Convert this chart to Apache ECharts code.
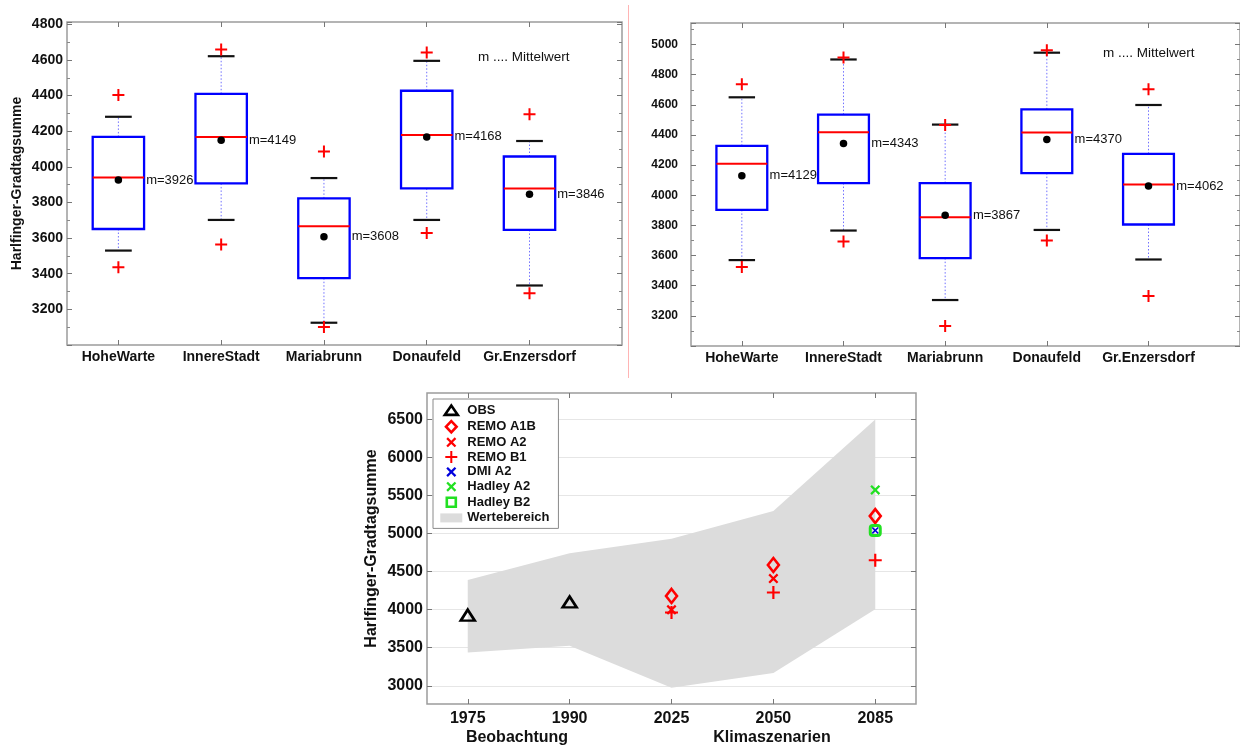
<!DOCTYPE html>
<html>
<head>
<meta charset="utf-8">
<script src="https://cdn.jsdelivr.net/npm/echarts@6/dist/echarts.min.js"></script>
<style>
  html, body { margin: 0; padding: 0; background: #fff; }
  #chart { width: 1240px; height: 745px; }
</style>
</head>
<body>
<div id="chart"></div>
<script>
// ---- Stations (top panels) ----
const stations = ['HoheWarte', 'InnereStadt', 'Mariabrunn', 'Donaufeld', 'Gr.Enzersdorf'];

// Left panel: box statistics
const whiskerLowL  = [3530, 3702, 3125, 3702, 3334];
const q1L          = [3651, 3907, 3375, 3879, 3646];
const medianL      = [3940, 4168, 3666, 4179, 3879];
const q3L          = [4168, 4410, 3823, 4427, 4058];
const whiskerHighL = [4281, 4621, 3937, 4595, 4145];
const meanL        = [3926, 4149, 3608, 4168, 3846];
const outHighL     = [4403, 4658, 4086, 4642, 4295];
const outLowL      = [3437, 3564, 3101, 3629, 3290];

// Right panel: box statistics
const whiskerLowR  = [3570, 3766, 3305, 3770, 3574];
const q1R          = [3903, 4081, 3583, 4147, 3806];
const medianR      = [4209, 4418, 3854, 4416, 4072];
const q3R          = [4328, 4535, 4081, 4570, 4275];
const whiskerHighR = [4650, 4901, 4469, 4946, 4599];
const meanR        = [4129, 4343, 3867, 4370, 4062];
const outHighR     = [4736, 4914, 4467, 4962, 4703];
const outLowR      = [3524, 3693, 3132, 3700, 3332];

// ---- Periods (bottom panel) ----
const periods   = ['1975', '1990', '2025', '2050', '2085'];
const rangeHigh = [4391, 4741, 4934, 5297, 6500];
const rangeLow  = [3438, 3525, 2974, 3167, 4007];
const obs       = [3928, 4102, null, null, null];
const remoA1B   = [null, null, 4181, 4588, 5231];
const remoA2    = [null, null, 3998, 4409, null];
const remoB1    = [null, null, 3963, 4226, 4650];
const dmiA2     = [null, null, null, null, 5043];
const hadleyA2  = [null, null, null, null, 5575];
const hadleyB2  = [null, null, null, null, 5043];
const bottomTicks = [3000, 3500, 4000, 4500, 5000, 5500, 6000, 6500];

const FONT = "'Liberation Sans', Arial, Helvetica, sans-serif";
const PLUS = 'path://M5,0H7V5H12V7H7V12H5V7H0V5H5Z';
const CROSS = 'path://M0,1.6L1.6,0L5,3.4L8.4,0L10,1.6L6.6,5L10,8.4L8.4,10L5,6.6L1.6,10L0,8.4L3.4,5Z';
const POS = [1, 2, 3, 4, 5];
const plain = v => String(Math.round(v));

// Legend icons in a 22x12 box (corner anchors keep the shapes undistorted)
const ANCHOR = 'path://M0,0M22,12';
const X_ICON = 'M6,2.6L7.6,1L11,4.4L14.4,1L16,2.6L12.6,6L16,9.4L14.4,11L11,7.6L7.6,11L6,9.4L9.4,6Z';
const legendIcons = {
  'OBS':          ANCHOR + 'M4.5,10.6L11,1.2L17.5,10.6Z',
  'REMO A1B':     ANCHOR + 'M11,0.4L16.3,6L11,11.6L5.7,6Z',
  'REMO A2':      ANCHOR + X_ICON,
  'REMO B1':      ANCHOR + 'M10,0H12V5H17V7H12V12H10V7H5V5H10Z',
  'DMI A2':       ANCHOR + X_ICON,
  'Hadley A2':    ANCHOR + X_ICON,
  'Hadley B2':    ANCHOR + 'M6.5,1.5H15.5V10.5H6.5Z',
  'Wertebereich': ANCHOR + 'M0,1.5H22V10.5H0Z'
};
const legendOutline = {
  'OBS': '#000', 'REMO A1B': '#ff0000', 'Hadley B2': '#22e022'
};

function boxData(lo, q1, md, q3, hi) {
  return stations.map((_, i) => [i + 1, lo[i], q1[i], md[i], q3[i], hi[i]]);
}
function points(arr) {
  return arr.map((v, i) => (v == null ? null : [i + 1, v])).filter(Boolean);
}

// Box with dotted whiskers, black caps, blue box and red median
function renderBox(params, api) {
  const x = api.value(0);
  const lo = api.coord([x, api.value(1)]);
  const q1 = api.coord([x, api.value(2)]);
  const md = api.coord([x, api.value(3)]);
  const q3 = api.coord([x, api.value(4)]);
  const hi = api.coord([x, api.value(5)]);
  const bw = api.size([0.5, 0])[0];
  const cw = api.size([0.26, 0])[0];
  const cx = lo[0];
  const whisk = { stroke: '#7070ff', lineWidth: 1, lineDash: [1.5, 2] };
  const cap = { stroke: '#111', lineWidth: 2.2 };
  return {
    type: 'group',
    children: [
      { type: 'line', shape: { x1: cx, y1: q3[1], x2: cx, y2: hi[1] }, style: whisk },
      { type: 'line', shape: { x1: cx, y1: q1[1], x2: cx, y2: lo[1] }, style: whisk },
      { type: 'line', shape: { x1: cx - cw / 2, y1: hi[1], x2: cx + cw / 2, y2: hi[1] }, style: cap },
      { type: 'line', shape: { x1: cx - cw / 2, y1: lo[1], x2: cx + cw / 2, y2: lo[1] }, style: cap },
      { type: 'rect', shape: { x: cx - bw / 2, y: q3[1], width: bw, height: q1[1] - q3[1] },
        style: { fill: 'none', stroke: '#0000ff', lineWidth: 2.3 } },
      { type: 'line', shape: { x1: cx - bw / 2, y1: md[1], x2: cx + bw / 2, y2: md[1] },
        style: { stroke: '#ff0000', lineWidth: 2 } }
    ]
  };
}

// Shaded value range
function renderRange(params, api) {
  const upper = rangeHigh.map((v, i) => api.coord([i + 1, v]));
  const lower = rangeLow.map((v, i) => api.coord([i + 1, v])).reverse();
  return { type: 'polygon', shape: { points: upper.concat(lower) }, style: { fill: api.visual('color') } };
}

function xAxes(grid, min, max, names, fontSize, margin) {
  const base = {
    type: 'value', gridIndex: grid, min: min, max: max,
    axisLine: { show: false }, splitLine: { show: false },
    axisTick: { inside: true, length: 5, customValues: POS, lineStyle: { color: '#777' } }
  };
  return [
    Object.assign({}, base, {
      position: 'bottom',
      axisLabel: {
        customValues: POS, formatter: v => names[Math.round(v) - 1] || '',
        color: '#111', fontFamily: FONT, fontWeight: 'bold', fontSize: fontSize, margin: margin
      }
    }),
    Object.assign({}, base, { position: 'top', axisLabel: { show: false } })
  ];
}

function boxYAxes(grid, max, fontSize, margin, name) {
  const base = {
    type: 'value', gridIndex: grid, min: 3000, max: max, interval: 200,
    axisLine: { show: false }, splitLine: { show: false },
    axisTick: { inside: true, length: 5, lineStyle: { color: '#777' } },
    minorTick: { show: true, splitNumber: 2, length: 3, lineStyle: { color: '#888' } }
  };
  const left = Object.assign({}, base, {
    position: 'left',
    axisLabel: { showMinLabel: false, showMaxLabel: false, formatter: plain, color: '#111', fontFamily: FONT,
      fontWeight: 'bold', fontSize: fontSize, margin: margin }
  });
  if (name) {
    Object.assign(left, {
      name: name, nameLocation: 'middle', nameGap: 43,
      nameTextStyle: { color: '#111', fontFamily: FONT, fontWeight: 'bold', fontSize: 14 }
    });
  }
  return [left, Object.assign({}, base, { position: 'right', axisLabel: { show: false } })];
}

function boxSeries(xi, yi, lo, q1, md, q3, hi, mean, outHi, outLo) {
  return [
    {
      type: 'custom', xAxisIndex: xi, yAxisIndex: yi, renderItem: renderBox,
      encode: { x: 0, y: [1, 2, 3, 4, 5] }, data: boxData(lo, q1, md, q3, hi), silent: true
    },
    {
      type: 'scatter', xAxisIndex: xi, yAxisIndex: yi, symbol: PLUS, symbolSize: 12,
      itemStyle: { color: '#ff0000', opacity: 1 }, data: points(outHi).concat(points(outLo)), silent: true
    },
    {
      type: 'scatter', xAxisIndex: xi, yAxisIndex: yi, symbol: 'circle', symbolSize: 7.5,
      itemStyle: { color: '#000', opacity: 1 }, data: points(mean), silent: true, z: 5,
      label: {
        show: true, position: 'right', distance: 24, formatter: p => 'm=' + p.value[1],
        color: '#111', fontFamily: FONT, fontSize: 13
      }
    }
  ];
}

const gridStyle = { show: true, borderColor: '#9c9c9c', borderWidth: 1.5, backgroundColor: '#fff' };

const chart = echarts.init(document.getElementById('chart'), null, { renderer: 'canvas' });

const xs = []
  .concat(xAxes(0, 0.5, 5.9, stations, 14, 5))
  .concat(xAxes(1, 0.5, 5.9, stations, 14, 5))
  .concat(xAxes(2, 0.6, 5.4, periods, 16, 7));

const bottomY = {
  type: 'value', gridIndex: 2, min: 2760, max: 6850,
  axisLine: { show: false },
  axisTick: { inside: true, length: 5, customValues: bottomTicks, lineStyle: { color: '#777' } },
  splitLine: { show: true, lineStyle: { color: '#e6e6e6', width: 1 } }
};
const ys = []
  .concat(boxYAxes(0, 4813, 14, 4, 'Harlfinger-Gradtagsumme'))
  .concat(boxYAxes(1, 5143, 12, 13, null))
  .concat([
    Object.assign({}, bottomY, {
      position: 'left',
      axisLabel: { customValues: bottomTicks, formatter: plain, color: '#111', fontFamily: FONT, fontWeight: 'bold', fontSize: 16, margin: 4 },
      name: 'Harlfinger-Gradtagsumme', nameLocation: 'middle', nameGap: 47,
      nameTextStyle: { color: '#111', fontFamily: FONT, fontWeight: 'bold', fontSize: 16 }
    }),
    Object.assign({}, bottomY, { position: 'right', axisLabel: { show: false }, splitLine: { show: false } })
  ]);

const legendNames = ['OBS', 'REMO A1B', 'REMO A2', 'REMO B1', 'DMI A2', 'Hadley A2', 'Hadley B2', 'Wertebereich'];

const option = {
  animation: false,
  backgroundColor: '#fff',
  grid: [
    Object.assign({ left: 67, top: 22, width: 555, height: 323 }, gridStyle),
    Object.assign({ left: 691, top: 23, width: 556, height: 323 }, gridStyle),
    Object.assign({ left: 427, top: 393, width: 489, height: 311 }, gridStyle)
  ],
  xAxis: xs,
  yAxis: ys,
  legend: {
    data: legendNames.map(n => {
      const item = { name: n, icon: legendIcons[n] };
      if (legendOutline[n]) {
        item.itemStyle = { color: 'rgba(0,0,0,0)', borderColor: legendOutline[n], borderWidth: 2.6 };
      }
      return item;
    }),
    orient: 'vertical', left: 433, top: 399,
    itemWidth: 22, itemHeight: 12, itemGap: 1.8,
    padding: [4, 9, 4, 6],
    borderColor: '#8a8a8a', borderWidth: 1, backgroundColor: '#fff',
    selectedMode: false,
    textStyle: { color: '#111', fontFamily: FONT, fontWeight: 'bold', fontSize: 13, lineHeight: 12.3 },
    z: 10
  },
  graphic: [
    { type: 'line', shape: { x1: 628.5, y1: 5, x2: 628.5, y2: 378 }, style: { stroke: '#ffb4b4', lineWidth: 1 } },
    { type: 'text', x: 478, y: 57, style: { text: 'm .... Mittelwert', fill: '#111', font: '13.5px ' + FONT, textVerticalAlign: 'middle' } },
    { type: 'text', x: 1103, y: 53, style: { text: 'm .... Mittelwert', fill: '#111', font: '13.5px ' + FONT, textVerticalAlign: 'middle' } },
    { type: 'text', x: 517, y: 738, style: { text: 'Beobachtung', fill: '#111', font: 'bold 16px ' + FONT, textAlign: 'center', textVerticalAlign: 'middle' } },
    { type: 'text', x: 772, y: 738, style: { text: 'Klimaszenarien', fill: '#111', font: 'bold 16px ' + FONT, textAlign: 'center', textVerticalAlign: 'middle' } }
  ],
  series: []
    .concat(boxSeries(0, 0, whiskerLowL, q1L, medianL, q3L, whiskerHighL, meanL, outHighL, outLowL))
    .concat(boxSeries(2, 2, whiskerLowR, q1R, medianR, q3R, whiskerHighR, meanR, outHighR, outLowR))
    .concat([
      {
        name: 'Wertebereich', type: 'custom', xAxisIndex: 4, yAxisIndex: 4,
        renderItem: renderRange, data: [[1, rangeLow[0]]], encode: { x: 0, y: 1 },
        itemStyle: { color: '#dcdcdc' }, silent: true, z: 1
      },
      {
        name: 'OBS', type: 'scatter', xAxisIndex: 4, yAxisIndex: 4, symbol: 'triangle', symbolSize: [14, 11],
        itemStyle: { color: 'rgba(0,0,0,0)', borderColor: '#000', borderWidth: 2.6, opacity: 1 }, data: points(obs)
      },
      {
        name: 'REMO A1B', type: 'scatter', xAxisIndex: 4, yAxisIndex: 4, symbol: 'diamond', symbolSize: [11, 14],
        itemStyle: { color: 'rgba(0,0,0,0)', borderColor: '#ff0000', borderWidth: 2.6, opacity: 1 }, data: points(remoA1B)
      },
      {
        name: 'REMO A2', type: 'scatter', xAxisIndex: 4, yAxisIndex: 4, symbol: CROSS, symbolSize: 10,
        itemStyle: { color: '#ff0000', opacity: 1 }, data: points(remoA2)
      },
      {
        name: 'REMO B1', type: 'scatter', xAxisIndex: 4, yAxisIndex: 4, symbol: PLUS, symbolSize: 13,
        itemStyle: { color: '#ff0000', opacity: 1 }, data: points(remoB1)
      },
      {
        name: 'Hadley A2', type: 'scatter', xAxisIndex: 4, yAxisIndex: 4, symbol: CROSS, symbolSize: 10,
        itemStyle: { color: '#22e022', opacity: 1 }, data: points(hadleyA2)
      },
      {
        name: 'Hadley B2', type: 'scatter', xAxisIndex: 4, yAxisIndex: 4, symbol: 'roundRect', symbolSize: 10,
        itemStyle: { color: 'rgba(0,0,0,0)', borderColor: '#22e022', borderWidth: 3, opacity: 1 }, data: points(hadleyB2)
      },
      {
        name: 'DMI A2', type: 'scatter', xAxisIndex: 4, yAxisIndex: 4, symbol: CROSS, symbolSize: 7,
        itemStyle: { color: '#0000dd', opacity: 1 }, data: points(dmiA2), z: 4
      }
    ])
};

chart.setOption(option);
</script>
</body>
</html>
